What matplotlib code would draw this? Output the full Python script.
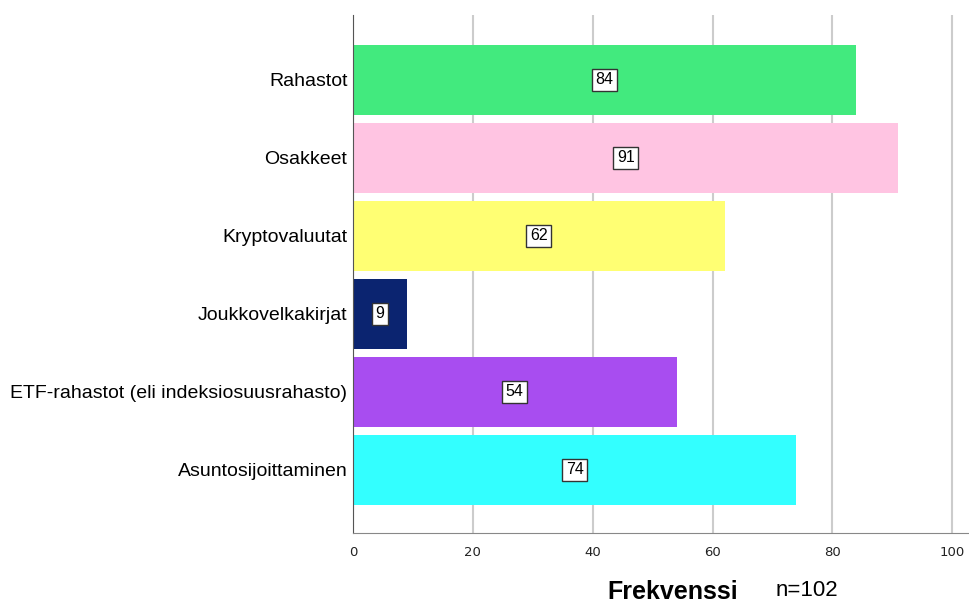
import matplotlib.pyplot as plt

# Data
categories = ['Rahastot', 'Osakkeet', 'Kryptovaluutat', 'Joukkovelkakirjat',
              'ETF-rahastot (eli indeksiosuusrahasto)', 'Asuntosijoittaminen']
counts = [84, 91, 62, 9, 54, 74]
colors = ['#42EA7E', '#FFC4E2', '#FFFF73', '#0B2470', '#A84DF0', '#33FFFF']
xticks = [0, 20, 40, 60, 80, 100]

fig = plt.figure(figsize=(9.69, 6.03), dpi=100)
ax = fig.add_axes([353 / 969, 1 - 533 / 603, 1 - 353 / 969, (533 - 15) / 603])

ypos = list(range(len(categories)))
ax.barh(ypos, counts, height=0.9, color=colors, zorder=2)

# Value labels in boxes at the bar middle
for y, v in zip(ypos, counts):
    ax.text(v / 2, y, str(v), ha='center', va='center', fontsize=11.5,
            family='Liberation Sans', zorder=3,
            bbox=dict(boxstyle='square,pad=0.22', fc='white', ec='#333333', lw=1.0))

ax.set_xlim(0, 102.8)
ax.set_ylim(5.81, -0.83)
ax.set_yticks(ypos)
ax.set_yticklabels(categories, family='Liberation Sans', fontsize=14)
ax.set_xticks(xticks)
ax.set_xticklabels([str(t) for t in xticks], fontsize=9.5, color='#222222')
ax.tick_params(axis='both', length=0, pad=4)
ax.tick_params(axis='x', pad=9)

ax.xaxis.grid(True, color='#CCCCCC', lw=1.5, zorder=0)
ax.set_axisbelow(True)
for s in ['top', 'right']:
    ax.spines[s].set_visible(False)
ax.spines['left'].set_color('#555555')
ax.spines['bottom'].set_color('#888888')

fig.text(673 / 969, 1 - 592 / 603, 'Frekvenssi', ha='center', va='center',
         fontsize=18, fontweight='bold', family='Liberation Sans')
fig.text(807 / 969, 1 - 590 / 603, 'n=102', ha='center', va='center',
         fontsize=16, family='Liberation Sans')

fig.savefig('out.png', dpi=100)
